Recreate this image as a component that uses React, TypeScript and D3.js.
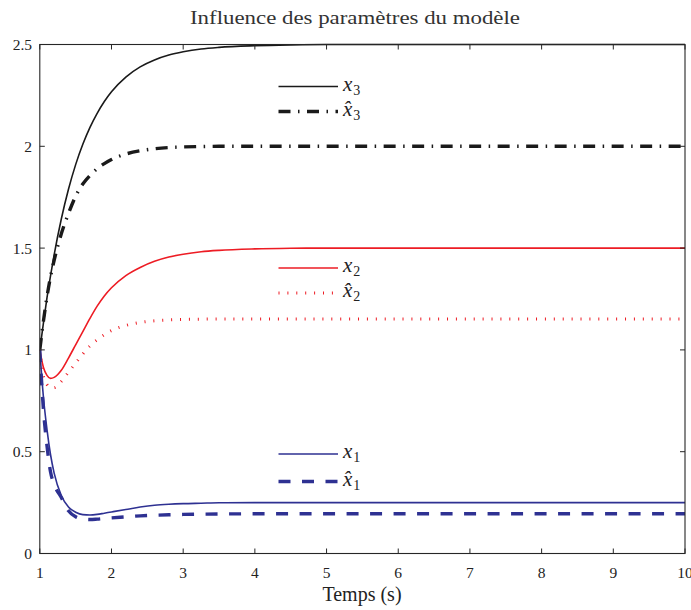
import React from "react";
import * as d3 from "d3";

const T = [1, 1.05, 1.1, 1.15, 1.2, 1.3, 1.4, 1.5, 1.6, 1.7, 1.8, 1.9, 2.0, 2.2, 2.4, 2.6, 2.8, 3.0, 3.25, 3.5, 4, 4.5, 5, 6, 7, 8, 9, 10];
const x3 = [1.0, 1.13, 1.255, 1.365, 1.467, 1.643, 1.789, 1.91, 2.01, 2.093, 2.162, 2.22, 2.268, 2.34, 2.39, 2.424, 2.448, 2.464, 2.478, 2.486, 2.494, 2.498, 2.5, 2.5, 2.5, 2.5, 2.5, 2.5];
const x3hat = [1.0, 1.14, 1.26, 1.36, 1.44, 1.57, 1.67, 1.755, 1.815, 1.857, 1.89, 1.915, 1.935, 1.962, 1.978, 1.988, 1.994, 1.997, 1.999, 2.0, 2.0, 2.0, 2.0, 2.0, 2.0, 2.0, 2.0, 2.0];
const x2 = [1.0, 0.915, 0.875, 0.86, 0.865, 0.9, 0.96, 1.025, 1.09, 1.155, 1.215, 1.265, 1.305, 1.365, 1.405, 1.435, 1.456, 1.47, 1.482, 1.489, 1.496, 1.499, 1.5, 1.5, 1.5, 1.5, 1.5, 1.5];
const x2hat = [1.0, 0.87, 0.83, 0.815, 0.815, 0.845, 0.89, 0.935, 0.98, 1.02, 1.05, 1.075, 1.095, 1.12, 1.135, 1.143, 1.147, 1.15, 1.151, 1.152, 1.152, 1.152, 1.152, 1.152, 1.152, 1.152, 1.152, 1.152];
const x1 = [1.0, 0.77, 0.61, 0.485, 0.395, 0.285, 0.228, 0.203, 0.191, 0.189, 0.192, 0.198, 0.204, 0.216, 0.228, 0.237, 0.242, 0.245, 0.247, 0.249, 0.25, 0.25, 0.25, 0.25, 0.25, 0.25, 0.25, 0.25];
const x1hat = [1.0, 0.71, 0.53, 0.4, 0.34, 0.275, 0.21, 0.18, 0.17, 0.167, 0.169, 0.172, 0.175, 0.18, 0.185, 0.188, 0.19, 0.192, 0.193, 0.194, 0.195, 0.195, 0.195, 0.195, 0.195, 0.195, 0.195, 0.195];

const xTicks = [1, 2, 3, 4, 5, 6, 7, 8, 9, 10];
const yTicks = [0, 0.5, 1, 1.5, 2, 2.5];

const BLACK = "#1a1a1a";
const RED = "#ed1c24";
const BLUE = "#2e3192";

const series = [
  { name: "x3", sub: "3", hat: false, values: x3, color: BLACK, width: 1.6, dash: null, legendY: 86.5 },
  { name: "x3hat", sub: "3", hat: true, values: x3hat, color: BLACK, width: 3.4, dash: "12,7.5,1.5,7.5", legendY: 111.5 },
  { name: "x2", sub: "2", hat: false, values: x2, color: RED, width: 1.6, dash: null, legendY: 268 },
  { name: "x2hat", sub: "2", hat: true, values: x2hat, color: RED, width: 3, dash: "1,7.9", legendY: 293 },
  { name: "x1", sub: "1", hat: false, values: x1, color: BLUE, width: 1.6, dash: null, legendY: 454 },
  { name: "x1hat", sub: "1", hat: true, values: x1hat, color: BLUE, width: 3.4, dash: "12,11.5", legendY: 481.5 },
];

const FONT = "'Liberation Serif', 'DejaVu Serif', serif";

export default function App() {
  const W = 691, H = 610;
  const left = 39.8, right = 685, top = 44.5, bottom = 553.5;
  const x = d3.scaleLinear().domain([1, 10]).range([left, right]);
  const y = d3.scaleLinear().domain([0, 2.5]).range([bottom, top]);
  const line = d3.line<number>()
    .x((_, i) => x(T[i]))
    .y((d) => y(d))
    .curve(d3.curveMonotoneX);
  const axisColor = "#262626";
  const tickLen = 5;
  return (
    <svg width={W} height={H} style={{ position: "absolute", left: 0, top: 0, background: "#fff" }} fontFamily={FONT}>
      <rect x={0} y={0} width={W} height={H} fill="#fff" />
      <defs>
        <clipPath id="plotclip">
          <rect x={left} y={top - 2} width={right - left} height={bottom - top + 2} />
        </clipPath>
      </defs>
      <g clipPath="url(#plotclip)">
        {series.map((s) => (
          <path
            key={s.name}
            d={line(s.values) || ""}
            fill="none"
            stroke={s.color}
            strokeWidth={s.width}
            strokeDasharray={s.dash || undefined}
            strokeLinecap="butt"
            strokeLinejoin="round"
          />
        ))}
      </g>
      <rect x={left} y={top} width={right - left} height={bottom - top} fill="none" stroke={axisColor} strokeWidth={1.1} />
      {xTicks.map((t) => (
        <g key={"xt" + t}>
          <line x1={x(t)} x2={x(t)} y1={bottom} y2={bottom - tickLen} stroke={axisColor} strokeWidth={1} />
          <line x1={x(t)} x2={x(t)} y1={top} y2={top + tickLen} stroke={axisColor} strokeWidth={1} />
          <text x={x(t)} y={578} textAnchor="middle" fontSize={15.5} fill="#222">{t}</text>
        </g>
      ))}
      {yTicks.map((t) => (
        <g key={"yt" + t}>
          <line x1={left} x2={left + tickLen} y1={y(t)} y2={y(t)} stroke={axisColor} strokeWidth={1} />
          <line x1={right} x2={right - tickLen} y1={y(t)} y2={y(t)} stroke={axisColor} strokeWidth={1} />
          <text x={32} y={y(t)} dy="0.35em" textAnchor="end" fontSize={15.5} fill="#222">{t}</text>
        </g>
      ))}
      {series.map((s) => (
        <g key={"lg" + s.name}>
          <line
            x1={278.5}
            x2={338}
            y1={s.legendY}
            y2={s.legendY}
            stroke={s.color}
            strokeWidth={s.width}
            strokeDasharray={s.dash || undefined}
          />
          <text x={343} y={s.legendY + 4} fontSize={21} fill="#222">
            <tspan fontStyle="italic">{s.hat ? "x\u0302" : "x"}</tspan>
            <tspan fontSize={14} dy={4} dx={1}>{s.sub}</tspan>
          </text>
        </g>
      ))}
      <text x={355} y={24} textAnchor="middle" fontSize={19} fill="#333" textLength={330} lengthAdjust="spacingAndGlyphs">
        Influence des paramètres du modèle
      </text>
      <text x={362} y={601} textAnchor="middle" fontSize={20} fill="#222">Temps (s)</text>
    </svg>
  );
}
